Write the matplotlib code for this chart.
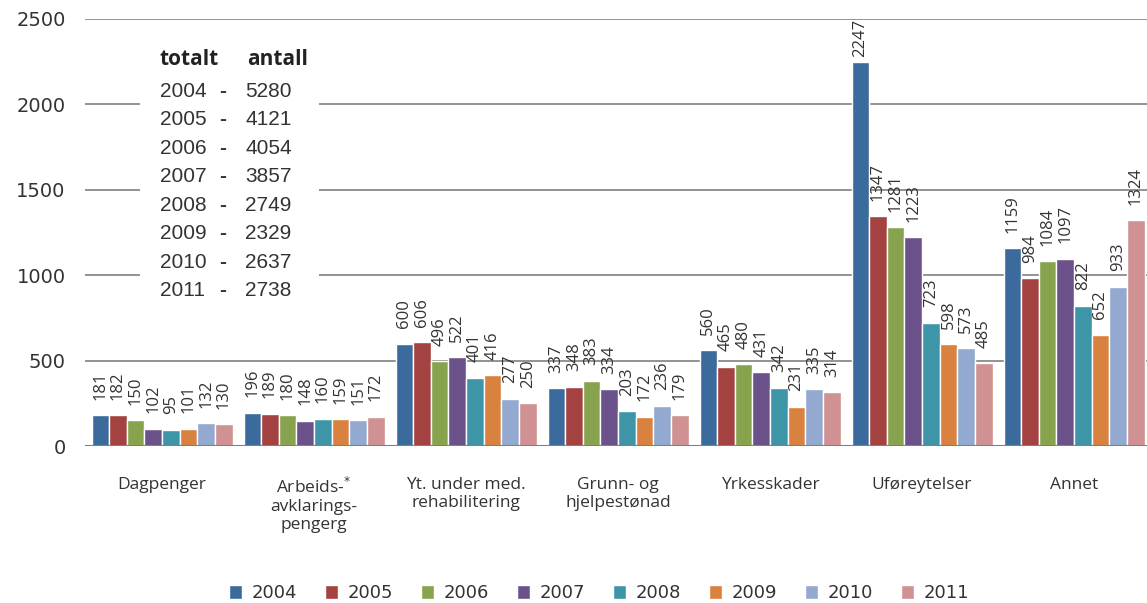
import numpy as np
import matplotlib
matplotlib.use("Agg")
import matplotlib.pyplot as plt
from matplotlib.patches import Rectangle

# data
kategorier = ["Dagpenger", "Arbeids-$^{*}$\navklarings-\npengerg", "Yt. under med.\nrehabilitering",
              "Grunn- og\nhjelpestønad", "Yrkesskader", "Uføreytelser", "Annet"]
aar = ["2004", "2005", "2006", "2007", "2008", "2009", "2010", "2011"]
verdier = [
    [181, 196, 600, 337, 560, 2247, 1159],   # 2004
    [182, 189, 606, 348, 465, 1347, 984],    # 2005
    [150, 180, 496, 383, 480, 1281, 1084],   # 2006
    [102, 148, 522, 334, 431, 1223, 1097],   # 2007
    [95, 160, 401, 203, 342, 723, 822],      # 2008
    [101, 159, 416, 172, 231, 598, 652],     # 2009
    [132, 151, 277, 236, 335, 573, 933],     # 2010
    [130, 172, 250, 179, 314, 485, 1324],    # 2011
]
totalt = [5280, 4121, 4054, 3857, 2749, 2329, 2637, 2738]
farger = ["#3b6b9d", "#a34240", "#87a34e", "#6c528b", "#3f95a8", "#d9813e", "#93a9cf", "#d09192"]

fig = plt.figure(figsize=(11.47, 6.03), dpi=100)
ax = fig.add_axes([85 / 1147, 157 / 603, 1 - 85 / 1147, 427 / 603])

x = np.arange(len(kategorier))
bredde = 0.116
for i, (serie, farge) in enumerate(zip(verdier, farger)):
    pos = x + (i - 3.5) * bredde
    bars = ax.bar(pos, serie, width=bredde, color=farge, edgecolor="white", linewidth=1.0,
                  label=aar[i], zorder=3)
    for b, v in zip(bars, serie):
        # den høyeste søylen har etiketten tettere på, ellers går den over toppen
        avstand = 4 if v > 2100 else 11
        ax.annotate(str(v), (b.get_x() + b.get_width() / 2, v), xytext=(0, avstand),
                    textcoords="offset points", rotation=90, ha="center", va="bottom",
                    fontsize=12, family="Open Sans", color="#333333", zorder=4)

ax.set_xlim(-0.507, 6.48)
ax.set_ylim(0, 2500)
ax.set_yticks([0, 500, 1000, 1500, 2000, 2500])
ax.set_yticklabels(["0", "500", "1000", "1500", "2000", "2500"], fontsize=14,
                   family="DejaVu Sans", color="#333333")
for yt in [500, 1000, 1500, 2000, 2500]:
    ax.axhline(yt, color="#8a8a8a", linewidth=1.3, zorder=1)
ax.axhline(0, color="#7f7f7f", linewidth=2.2, zorder=5)

ax.set_xticks(x)
ax.set_xticklabels(kategorier, fontsize=12.5, family="Open Sans", color="#333333", linespacing=1.2)
ax.tick_params(axis="x", length=0, pad=22)
ax.tick_params(axis="y", length=0, pad=14)
for s in ax.spines.values():
    s.set_visible(False)

# totalt antall-boks
ax.add_patch(Rectangle((0.052, 0.33), 0.168, 0.62, transform=ax.transAxes,
                       facecolor="white", edgecolor="none", zorder=2))
ax.text(0.0706, 0.904, "totalt", transform=ax.transAxes, fontsize=15, fontweight="bold",
        family="Open Sans", color="#222222", va="center", zorder=3)
ax.text(0.153, 0.904, "antall", transform=ax.transAxes, fontsize=15, fontweight="bold",
        family="Open Sans", color="#222222", va="center", zorder=3)
for k, (a, t) in enumerate(zip(aar, totalt)):
    yy = 0.831 - k * 0.0667
    ax.text(0.0706, yy, a, transform=ax.transAxes, fontsize=15, family="Liberation Sans",
            color="#333333", va="center", zorder=3)
    ax.text(0.1294, yy, "-", transform=ax.transAxes, fontsize=15, family="Liberation Sans",
            fontweight="bold", color="#333333", va="center", ha="center", zorder=3)
    ax.text(0.1507, yy, str(t), transform=ax.transAxes, fontsize=15, family="Liberation Sans",
            color="#333333", va="center", zorder=3)

fig.legend(loc="center", bbox_to_anchor=(0.522, 0.016), ncol=8, frameon=False,
           prop={"family": "DejaVu Sans", "size": 13}, handlelength=0.75, handleheight=0.75,
           handletextpad=0.5, columnspacing=1.55, labelcolor="#333333")

fig.savefig("out.png", dpi=100)
